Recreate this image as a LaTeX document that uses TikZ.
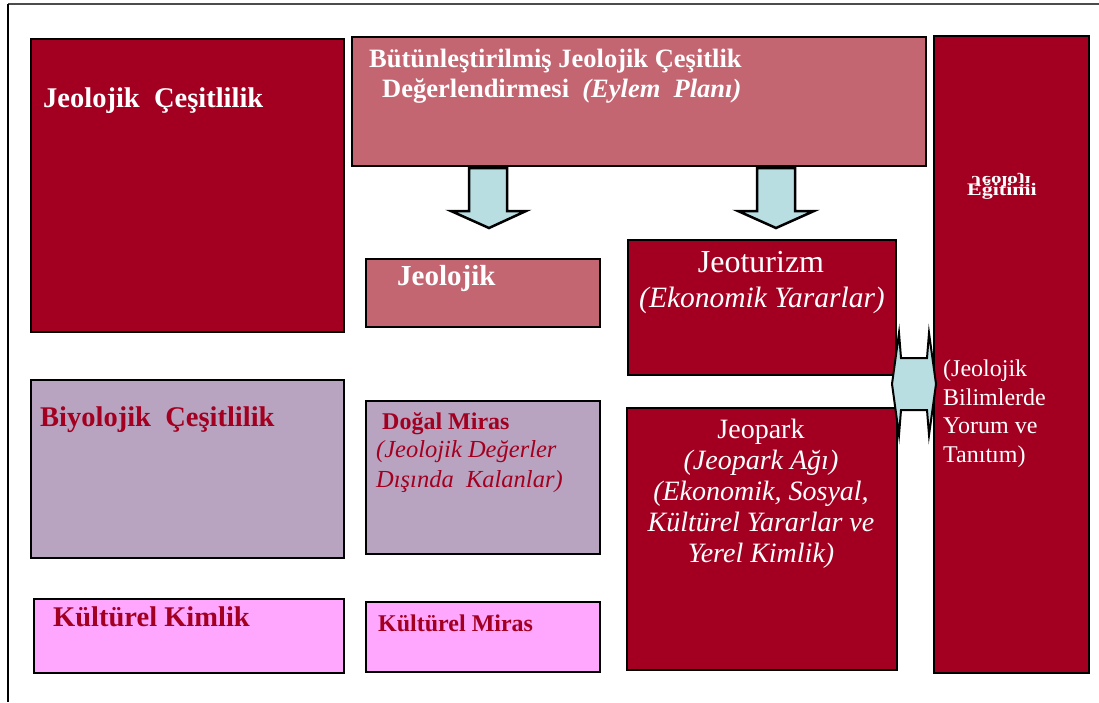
\documentclass[tikz,border=0pt]{standalone}
\usepackage{fontspec}
\setmainfont{Liberation Serif}
\usepackage{xcolor}
\usetikzlibrary{positioning}

\definecolor{jred}{HTML}{A30021}
\definecolor{jrose}{HTML}{C46672}
\definecolor{jmauve}{HTML}{B8A4C0}
\definecolor{jpink}{HTML}{FFA6FF}
\definecolor{jcyan}{HTML}{B8DEE2}

\begin{document}
\begin{tikzpicture}[
  x=1pt, y=-1pt,
  box/.style={draw=black, line width=2pt, anchor=north west, inner sep=0pt},
  redbox/.style={box, fill=jred},
  rosebox/.style={box, fill=jrose},
  mauvebox/.style={box, fill=jmauve},
  pinkbox/.style={box, fill=jpink},
  title/.style={inner sep=0pt, anchor=base west, font=\bfseries\fontsize{28.5}{34}\selectfont},
  blockarrow/.style={draw=black, line width=2.5pt, fill=jcyan, line join=miter}
]
\useasboundingbox (0,0) rectangle (1099,702);
% frame
\draw[line width=2.5pt, black!70] (8,4) -- (1099,4);
\draw[line width=2pt] (8,4) -- (8,702);

% boxes
\node[redbox, minimum width=313pt, minimum height=293pt] (geodiv) at (30,38) {};
\node[rosebox, minimum width=574pt, minimum height=129pt] (plan) at (351,36) {};
\node[rosebox, minimum width=234pt, minimum height=68pt] (geoher) at (365,258) {};
\node[redbox, minimum width=268pt, minimum height=135pt] (tourism) at (627,239) {};
\node[redbox, minimum width=155pt, minimum height=637pt] (educ) at (933,35) {};
\node[mauvebox, minimum width=313pt, minimum height=178pt] (biodiv) at (30,379) {};
\node[mauvebox, minimum width=234pt, minimum height=153pt] (natural) at (365,400) {};
\node[redbox, minimum width=270pt, minimum height=262pt] (geopark) at (626,407) {};
\node[pinkbox, minimum width=310pt, minimum height=74pt] (identity) at (33,598) {};
\node[pinkbox, minimum width=234pt, minimum height=70pt] (cultural) at (365,601) {};

% block arrows
\draw[blockarrow] (469,168) -- (507,168) -- (507,211) -- (526,211) -- (489,228)
  -- (451,211) -- (469,211) -- cycle;
\draw[blockarrow] (757,168) -- (795,168) -- (795,211) -- (814,211) -- (776,228)
  -- (738,211) -- (757,211) -- cycle;
\draw[blockarrow, line width=2pt] (892,384) -- (899,333) -- (901,358) -- (927,358)
  -- (929,333) -- (936,384) -- (929,435) -- (927,410) -- (901,410) -- (899,435) -- cycle;

% texts
\node[title, text=white] (geodivtxt) at (43,107) {Jeolojik\ \ Çeşitlilik};
\node[title, text=white, font=\bfseries\fontsize{26.5}{32}\selectfont] (plantxt) at (369,67)
  {Bütünleştirilmiş Jeolojik Çeşitlik};
\node[title, text=white, font=\bfseries\fontsize{26.5}{32}\selectfont] (plantxtb) at (382,97)
  {Değerlendirmesi\ \ \textit{(Eylem\ \ Planı)}};
\node[title, text=white, font=\bfseries\fontsize{29}{34}\selectfont] (geohertxt) at (397,285) {Jeolojik};
\node[inner sep=0pt, anchor=base, text=white, font=\fontsize{32}{36}\selectfont] (tourtxt) at (761,272) {Jeoturizm};
\node[inner sep=0pt, anchor=base, text=white, font=\itshape\fontsize{29.5}{34}\selectfont] (tourtxtb) at (762,307)
  {(Ekonomik Yararlar)};
\node[inner sep=0pt, anchor=base, text=white, font=\bfseries\fontsize{21}{21}\selectfont] (eductxt) at (1001,176)
  {\scalebox{1}[-0.72]{Jeoloji}};
\node[inner sep=0pt, anchor=base, text=white, font=\bfseries\fontsize{22}{22}\selectfont] (eductxtb) at (1002,195)
  {\scalebox{1}[0.8]{Eğitimi}};
\node[inner sep=0pt, anchor=north west, align=left, text=white, font=\fontsize{24}{28.5}\selectfont] (sciencetxt)
  at (943,360) {(Jeolojik\\Bilimlerde\\Yorum ve\\Tanıtım)};
\node[title, text=jred] (biodivtxt) at (40,426) {Biyolojik\ \ Çeşitlilik};
\node[title, text=jred, font=\bfseries\fontsize{24}{30}\selectfont] (naturaltxt) at (382,429) {Doğal Miras};
\node[inner sep=0pt, anchor=north west, align=left, text=jred, font=\itshape\fontsize{24.5}{30}\selectfont] (naturaltxtb)
  at (376,440) {(Jeolojik Değerler\\Dışında\ \ Kalanlar)};
\node[inner sep=0pt, anchor=north, align=center, text=white, font=\fontsize{28}{31}\selectfont] (geoparktxt)
  at (761,419) {Jeopark\\\textit{(Jeopark Ağı)}\\\textit{(Ekonomik, Sosyal,}\\\textit{Kültürel Yararlar ve}\\\textit{Yerel Kimlik)}};
\node[title, text=jred] (identitytxt) at (53,626) {Kültürel Kimlik};
\node[title, text=jred, font=\bfseries\fontsize{24}{30}\selectfont] (culturaltxt) at (378,631) {Kültürel Miras};
\end{tikzpicture}
\end{document}
